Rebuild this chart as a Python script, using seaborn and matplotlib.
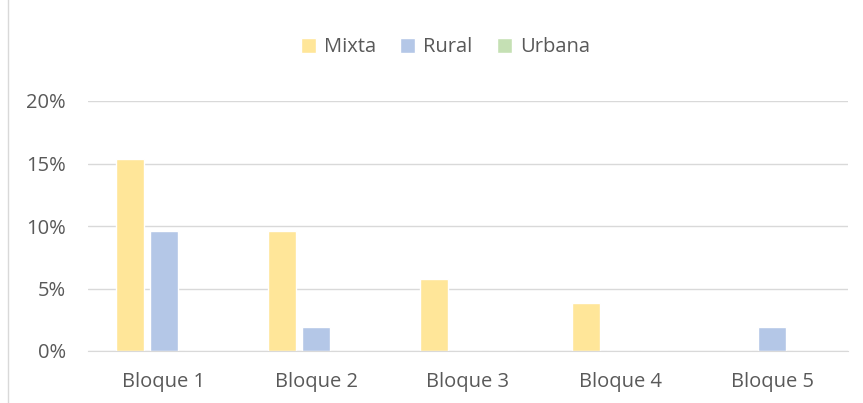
import pandas as pd
import numpy as np
import matplotlib.pyplot as plt
import seaborn as sns
from matplotlib.ticker import PercentFormatter
from matplotlib.patches import Rectangle

sns.set_style("white")
plt.rcParams['font.family'] = ['Open Sans', 'DejaVu Sans']

bloques = ['Bloque 1', 'Bloque 2', 'Bloque 3', 'Bloque 4', 'Bloque 5']
mixta = [0.1538, 0.0962, 0.0577, 0.0385, 0.0]
rural = [0.0962, 0.0192, 0.0, 0.0, 0.0192]
urbana = [0.0, 0.0, 0.0, 0.0, 0.0]
tipos = ['Mixta', 'Rural', 'Urbana']
colores = ['#FFE699', '#B4C7E7', '#C5E0B4']

df = pd.DataFrame({'Bloque': bloques, 'Mixta': mixta, 'Rural': rural, 'Urbana': urbana})
df = df.melt(id_vars='Bloque', var_name='Tipo', value_name='Porcentaje')

fig = plt.figure(figsize=(8.63, 4.03), dpi=100)
ax = fig.add_axes([88 / 863, 1 - 351 / 403, 760 / 863, 250 / 403])

sns.barplot(data=df, x='Bloque', y='Porcentaje', hue='Tipo', hue_order=tipos,
            palette=colores, width=0.67, gap=0.2, saturation=1, ax=ax)

ax.set_ylim(0, 0.20)
ax.set_yticks([0, 0.05, 0.10, 0.15, 0.20])
ax.yaxis.set_major_formatter(PercentFormatter(1.0, decimals=0))
ax.yaxis.grid(True, color='#D9D9D9', linewidth=1)
ax.set_axisbelow(True)
for s in ['top', 'right', 'left']:
    ax.spines[s].set_visible(False)
ax.spines['bottom'].set_color('#D9D9D9')
ax.tick_params(axis='both', length=0, labelsize=14.5, colors='#595959')
ax.tick_params(axis='y', pad=16)
ax.tick_params(axis='x', pad=15)
ax.set_xlabel('')
ax.set_ylabel('')

ax.legend(loc='center', bbox_to_anchor=(0.47, 1.215), ncol=3, frameon=False,
          fontsize=14.5, labelcolor='#595959', handlelength=0.75, handleheight=0.75,
          handletextpad=0.4, columnspacing=1.2)

fig.patches.append(Rectangle((8 / 863, -0.01), 1.0, 1.05, transform=fig.transFigure,
                             fill=False, edgecolor='#D9D9D9', linewidth=1))

fig.savefig('out.png', dpi=100)
